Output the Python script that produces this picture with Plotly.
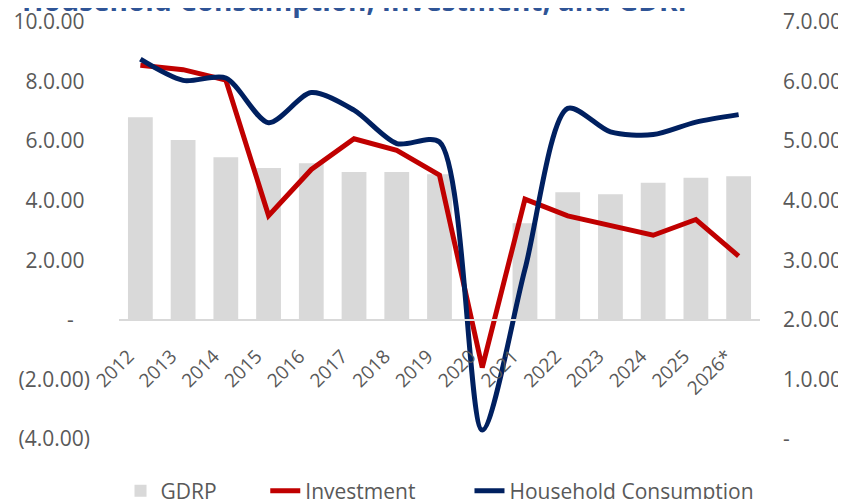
import plotly.graph_objects as go

years = ["2012", "2013", "2014", "2015", "2016", "2017", "2018", "2019",
         "2020", "2021", "2022", "2023", "2024", "2025", "2026*"]
gdrp = [6.80, 6.04, 5.46, 5.10, 5.26, 4.96, 4.96, 4.89,
        None, 3.24, 4.28, 4.22, 4.60, 4.77, 4.82]
investment = [8.55, 8.40, 8.05, 3.50, 5.05, 6.08, 5.69, 4.86,
              -1.60, 4.05, 3.49, 3.18, 2.84, 3.37, 2.14]
household = [8.75, 8.04, 8.12, 6.62, 7.63, 7.04, 5.92, 5.97,
             -3.70, 1.70, 7.10, 6.31, 6.22, 6.64, 6.89]

left_vals = [-4, -2, 0, 2, 4, 6, 8, 10]
left_text = ["(4.0.00)", "(2.0.00)", "-\u00a0\u00a0\u00a0", "2.0.00\u00a0", "4.0.00\u00a0",
             "6.0.00\u00a0", "8.0.00\u00a0", "10.0.00\u00a0"]
right_vals = [0, 1, 2, 3, 4, 5, 6, 7]
right_text = ["-", "1.0.00", "2.0.00", "3.0.00", "4.0.00", "5.0.00", "6.0.00", "7.0.00"]

FONT = "Open Sans"
TXT = "#595959"
PAD = "\u00a0"

fig = go.Figure()
fig.add_trace(go.Bar(x=years, y=gdrp, name="GDRP" + PAD * 8,
                     marker=dict(color="#D9D9D9", line=dict(width=0))))
fig.add_trace(go.Scatter(x=years, y=investment, name="Investment" + PAD * 9, mode="lines",
                         line=dict(color="#C00000", width=5)))
fig.add_trace(go.Scatter(x=years, y=household, name="Household Consumption", mode="lines",
                         line=dict(color="#002060", width=5, shape="spline", smoothing=0.8)))
fig.add_trace(go.Scatter(x=[years[0]], y=[None], yaxis="y2", showlegend=False,
                         hoverinfo="skip", mode="lines"))

fig.update_layout(
    width=846, height=499,
    margin=dict(l=111, r=94, t=14, b=68, autoexpand=False),
    paper_bgcolor="white", plot_bgcolor="white",
    font=dict(family=FONT, size=21, color=TXT),
    bargap=0.42,
    showlegend=True,
    legend=dict(orientation="h", x=0.133, xref="container", xanchor="left",
                y=0.032, yref="container", yanchor="middle",
                font=dict(size=21, color=TXT), traceorder="normal"),
    xaxis=dict(type="category", range=[-0.5, 14.5], anchor="free", position=4 / 14,
               showline=True, linecolor="#D9D9D9", linewidth=2, showgrid=False,
               ticks="", tickangle=-45, ticklabelshift=-12, ticklabelstandoff=17,
               ticklabeloverflow="allow", tickfont=dict(size=19, color=TXT)),
    yaxis=dict(range=[-4, 10], tickvals=left_vals, ticktext=left_text, showgrid=False,
               zeroline=False, showline=False, ticks="", ticklabelstandoff=28,
               ticklabeloverflow="allow", tickfont=dict(size=21, color=TXT)),
    yaxis2=dict(range=[0, 7], overlaying="y", side="right", tickvals=right_vals,
                ticktext=right_text, showgrid=False, zeroline=False, showline=False,
                ticks="", ticklabelstandoff=22, ticklabeloverflow="allow",
                tickfont=dict(size=21, color=TXT)),
    annotations=[dict(text="<b>Household Consumption, Investment, and GDRP</b>",
                      xref="paper", yref="paper", x=-0.155, y=1, xanchor="left",
                      yanchor="bottom", yshift=1, showarrow=False,
                      font=dict(family=FONT, size=28, color="#2F5496"))],
)

fig.write_html("out.html")
